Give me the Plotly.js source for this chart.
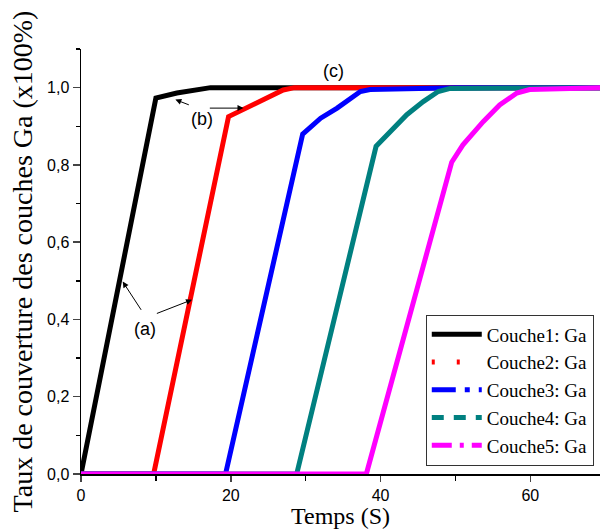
<!DOCTYPE html>
<html>
<head>
<meta charset="utf-8">
<script src="https://cdn.plot.ly/plotly-3.0.1.min.js"></script>
<style>html,body{margin:0;padding:0;background:#fff;}#chart{width:600px;height:529px;}</style>
</head>
<body>
<div id="chart"></div>
<script>
// ---- data ----
const seriesNames = ["Couche1: Ga", "Couche2: Ga", "Couche3: Ga", "Couche4: Ga", "Couche5: Ga"];
const c1x = [0, 10, 12.8, 17.3, 70];
const c1y = [0, 0.973, 0.986, 1.0, 1.0];
const c2x = [0, 9.7, 19.7, 21.7, 27.0, 28.5, 70];
const c2y = [0, 0, 0.925, 0.944, 0.994, 1.0, 1.0];
const c3x = [0, 19.3, 29.6, 32.0, 34.2, 37.3, 38.6, 50, 70];
const c3y = [0, 0, 0.88, 0.921, 0.947, 0.99, 0.995, 1.0, 1.0];
const c4x = [0, 28.8, 39.4, 41.3, 43.5, 45.7, 47.7, 49.3, 70];
const c4y = [0, 0, 0.848, 0.886, 0.93, 0.964, 0.99, 0.998, 1.0];
const c5x = [0, 38.1, 49.5, 51.0, 53.7, 55.9, 58.2, 59.9, 70];
const c5y = [0, 0, 0.807, 0.852, 0.912, 0.955, 0.986, 0.995, 1.0];
const xTickVals = [0, 20, 40, 60];
const yTickVals = [0, 0.2, 0.4, 0.6, 0.8, 1.0];
const yTickText = ["0,0", "0,2", "0,4", "0,6", "0,8", "1,0"];

const colors = ["#000000", "#ff0000", "#0000ff", "#008080", "#ff00ff"];
const dashes = ["solid", "3px,22px", "24px,9px,5px,9px", "12px,10px", "20px,8px,4px,8px"];
const xs = [c1x, c2x, c3x, c4x, c5x];
const ys = [c1y, c2y, c3y, c4y, c5y];

const traces = [];
for (let i = 0; i < 5; i++) {
  traces.push({x: xs[i], y: ys[i], type: "scatter", mode: "lines",
    line: {color: colors[i], width: 5}, showlegend: false, hoverinfo: "skip"});
}
for (let i = 0; i < 5; i++) {
  traces.push({x: [null], y: [null], type: "scatter", mode: "lines", name: seriesNames[i],
    line: {color: colors[i], width: 5, dash: dashes[i]}, showlegend: true});
}

const sans = "Liberation Sans, Arial, sans-serif";
const serif = "Liberation Serif, Times New Roman, serif";

function arrow(x, y, ax, ay) {
  return {x: x, y: y, ax: ax, ay: ay, xref: "x", yref: "y", axref: "x", ayref: "y",
    showarrow: true, arrowhead: 2, arrowsize: 1.2, arrowwidth: 1, arrowcolor: "#000", text: ""};
}
function label(t, x, y) {
  return {x: x, y: y, xref: "x", yref: "y", text: t, showarrow: false,
    font: {family: sans, size: 18, color: "#000"}};
}

const layout = {
  width: 600, height: 529,
  margin: {l: 81, r: 0, t: 49, b: 55},
  paper_bgcolor: "#fff", plot_bgcolor: "#fff",
  separators: ",.",
  xaxis: {range: [0, 69.3], tickvals: xTickVals, ticks: "outside", ticklen: 6, tickwidth: 1.5,
    minor: {dtick: 10, ticks: "outside", ticklen: 5, tickwidth: 1.5, tickcolor: "#000"},
    showline: true, linecolor: "#000", linewidth: 1.5, showgrid: false, zeroline: false,
    layer: "below traces",
    tickfont: {family: sans, size: 16, color: "#000"},
    title: {text: "Temps (S)", font: {family: serif, size: 24, color: "#000"}, standoff: 2}},
  xaxis2: {overlaying: "x", side: "top", anchor: "y", range: [0, 4.93], dtick: 1,
    ticks: "outside", ticklen: 6, tickwidth: 1.5, showticklabels: false,
    minor: {dtick: 0.5, ticks: "outside", ticklen: 4, tickwidth: 1.5, tickcolor: "#000"},
    showline: true, linecolor: "#000", linewidth: 1.5, showgrid: false, zeroline: false},
  yaxis: {range: [0, 1.1], tickvals: yTickVals, ticktext: yTickText, ticks: "outside", ticklen: 7, tickwidth: 1.5,
    minor: {dtick: 0.1, ticks: "outside", ticklen: 4, tickwidth: 1.5, tickcolor: "#000"},
    showline: true, linecolor: "#000", linewidth: 1.5, showgrid: false, zeroline: false,
    tickfont: {family: sans, size: 16, color: "#000"},
    title: {text: "Taux de couverture des couches Ga (x100%)", font: {family: serif, size: 28, color: "#000"}, standoff: 6}},
  legend: {x: 0.988, y: 0.02, xanchor: "right", yanchor: "bottom",
    bgcolor: "#fff", bordercolor: "#333", borderwidth: 1,
    font: {family: serif, size: 19, color: "#000"}, itemwidth: 50, tracegroupgap: 0},
  annotations: [
    arrow(5.57, 0.498, 8.16, 0.421),
    arrow(14.83, 0.451, 9.93, 0.414),
    label("(a)", 8.6, 0.375),
    arrow(12.6, 0.969, 14.6, 0.954),
    arrow(21.7, 0.947, 17.0, 0.947),
    label("(b)", 16.2, 0.92),
    label("(c)", 33.7, 1.042)
  ],
  showlegend: true
};

Plotly.newPlot("chart", traces, layout, {displayModeBar: false, staticPlot: true});
</script>
</body>
</html>
